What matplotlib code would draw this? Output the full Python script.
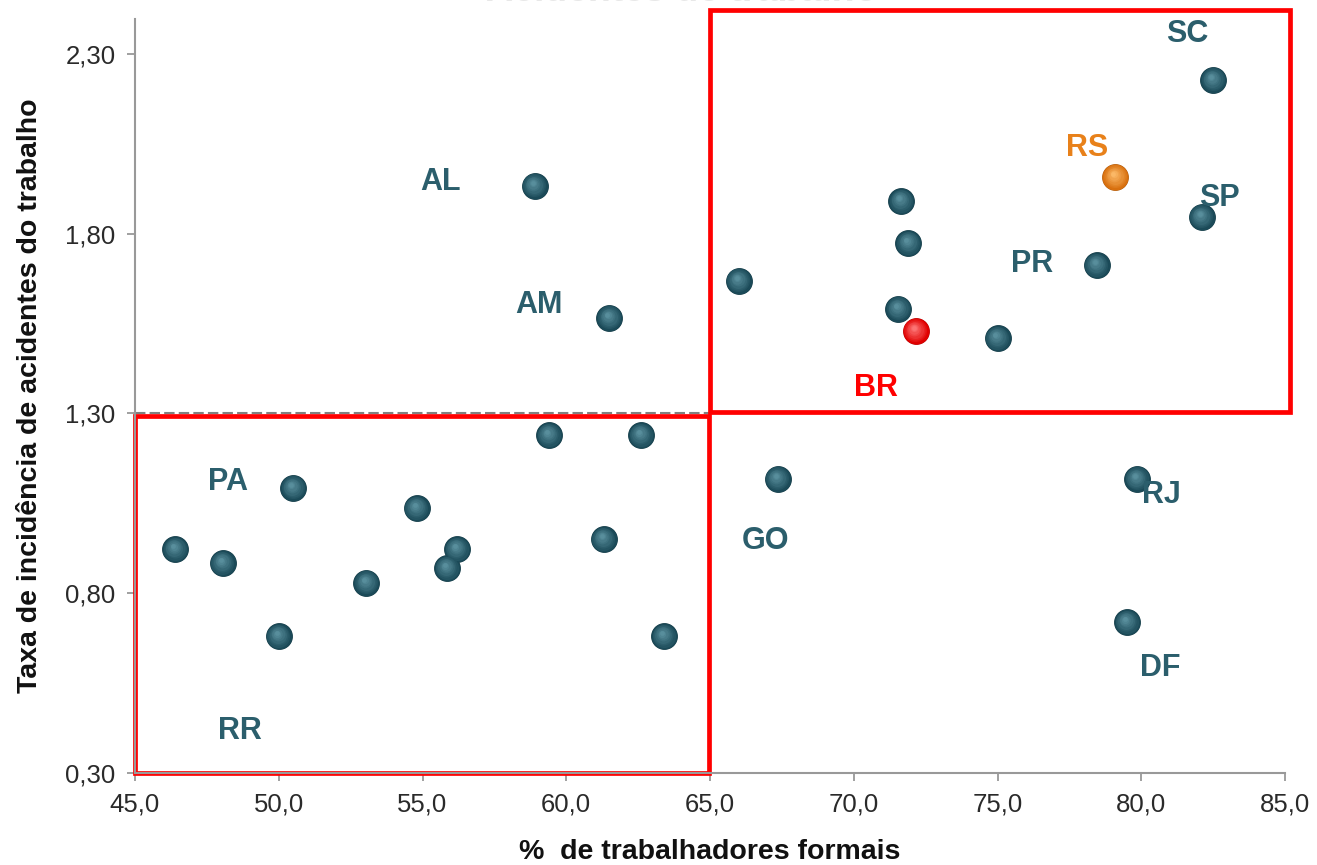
import matplotlib
matplotlib.use("Agg")
import matplotlib.pyplot as plt
import numpy as np
from matplotlib.patches import Rectangle
from matplotlib.colors import to_rgb

plt.rcParams['font.family'] = ['Liberation Sans', 'DejaVu Sans']

# ---- data ----
formais = [82.5, 79.1, 82.1, 78.45, 71.65, 71.9, 66.0, 71.55, 72.15, 75.0,
           58.9, 61.5, 59.4, 62.6, 50.5, 54.8, 46.4, 48.05, 56.2, 55.85,
           61.3, 53.05, 50.0, 63.4, 67.35, 79.85, 79.5]
taxa = [2.228, 1.958, 1.847, 1.713, 1.891, 1.774, 1.669, 1.591, 1.530, 1.510,
        1.933, 1.566, 1.240, 1.240, 1.093, 1.037, 0.923, 0.884, 0.923, 0.870,
        0.951, 0.829, 0.681, 0.681, 1.118, 1.118, 0.720]
uf = ['SC', 'RS', 'SP', 'PR', '', '', '', '', 'BR', '',
      'AL', 'AM', '', '', 'PA', '', '', '', '', '',
      '', '', 'RR', '', 'GO', 'RJ', 'DF']
kind = ['uf', 'rs', 'uf', 'uf', 'uf', 'uf', 'uf', 'uf', 'br', 'uf',
        'uf', 'uf', 'uf', 'uf', 'uf', 'uf', 'uf', 'uf', 'uf', 'uf',
        'uf', 'uf', 'uf', 'uf', 'uf', 'uf', 'uf']
# label offsets (pixels) relative to point
label_dx = {'SC': -26, 'RS': -28, 'SP': 18, 'PR': -65, 'BR': -40, 'AL': -94,
            'AM': -70, 'PA': -65, 'RR': -39, 'GO': -12, 'RJ': 24, 'DF': 33}
label_dy = {'SC': 46, 'RS': 29, 'SP': 19, 'PR': 1, 'BR': -57, 'AL': 4,
            'AM': 13, 'PA': 6, 'RR': -95, 'GO': -62, 'RJ': -16, 'DF': -46}

xticks = [45, 50, 55, 60, 65, 70, 75, 80, 85]
yticks = [0.30, 0.80, 1.30, 1.80, 2.30]

base_colors = {'uf': '#1b4a58', 'rs': '#d8700f', 'br': '#e00000'}
hi_colors = {'uf': '#5f95a3', 'rs': '#ffc070', 'br': '#ff8080'}
text_colors = {'uf': '#2b5e6c', 'rs': '#e8811a', 'br': '#ff0000'}

fig = plt.figure(figsize=(13.17, 8.65), dpi=100)
ax = fig.add_axes([135/1317, 92/865, (1285-135)/1317, (773-19)/865])
ax.set_xlim(45, 85)
ax.set_ylim(0.30, 2.397)

# reference lines
ax.axhline(1.30, color='#808080', lw=1.5, ls=(0, (5, 2)), zorder=1)
ax.axvline(65.0, color='#808080', lw=1.5, ls=(0, (5, 2)), zorder=1)

# quadrant boxes
ax.add_patch(Rectangle((65.0, 1.305), 20.17, 1.117, fill=False, ec='#ff0000',
                       lw=3.4, clip_on=False, zorder=2))
ax.add_patch(Rectangle((45.0, 0.30), 19.95, 0.993, fill=False, ec='#ff0000',
                       lw=3.4, clip_on=False, zorder=2))

# sphere-like markers
xs = np.array(formais)
ys = np.array(taxa)
for k in ['uf', 'rs', 'br']:
    idx = [i for i, kk in enumerate(kind) if kk == k]
    bx, by = xs[idx], ys[idx]
    c0 = np.array(to_rgb(base_colors[k]))
    c1 = np.array(to_rgb(hi_colors[k]))
    ax.scatter(bx, by, s=370, color=c0 * 0.75, zorder=3, linewidths=0)
    n = 8
    for j in range(n):
        f = j / (n - 1)
        size = 340 * (1 - f) ** 1.6 + 12
        col = c0 * (1 - f * 0.9) + c1 * f * 0.9
        ax.scatter(bx - 0.07 * f, by + 0.008 * f, s=size, color=col,
                   zorder=3 + j * 0.01, linewidths=0)

for i, lab in enumerate(uf):
    if lab:
        ax.annotate(lab, (formais[i], taxa[i]),
                    xytext=(label_dx[lab] * 0.72, label_dy[lab] * 0.72),
                    textcoords='offset points', ha='center', va='center',
                    fontsize=22, fontweight='bold', color=text_colors[kind[i]],
                    zorder=5)

ax.set_xticks(xticks)
ax.set_xticklabels([f"{v:.1f}".replace('.', ',') for v in xticks])
ax.set_yticks(yticks)
ax.set_yticklabels([f"{v:.2f}".replace('.', ',') for v in yticks])
ax.tick_params(axis='both', direction='out', length=6, width=1.3,
               color='#999999', labelsize=18.5, labelcolor='#2a2a2a', pad=8)
for s in ['top', 'right']:
    ax.spines[s].set_visible(False)
for s in ['left', 'bottom']:
    ax.spines[s].set_color('#999999')
    ax.spines[s].set_linewidth(1.5)

ax.set_xlabel('%  de trabalhadores formais', fontsize=20.5, fontweight='bold',
              color='#111111', labelpad=16)
ax.set_ylabel('Taxa de incidência de acidentes do trabalho', fontsize=20.5,
              fontweight='bold', color='#111111', labelpad=16)

fig.text(682/1317, 1 - 1/865, 'Acidentes de trabalho', ha='center',
         va='baseline', fontsize=27, fontweight='bold', color='#e8e8e8')

fig.savefig('out.png', dpi=100)
